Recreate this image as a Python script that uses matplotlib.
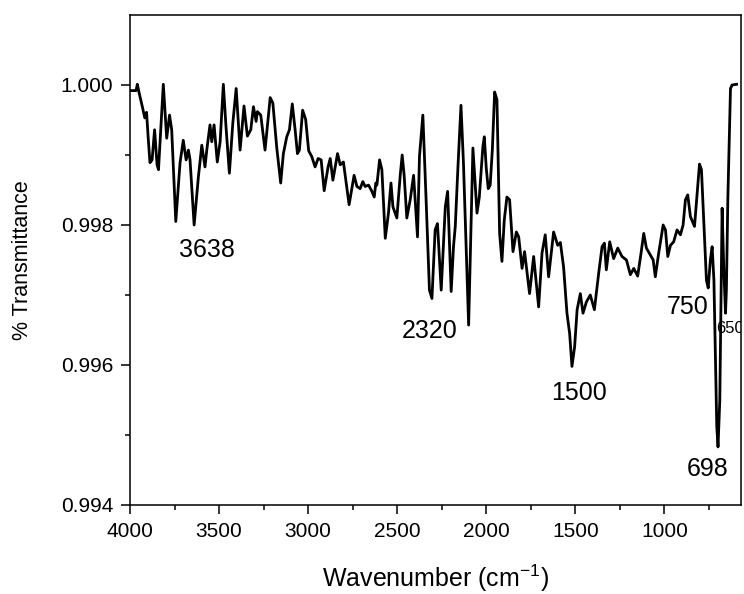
import matplotlib
matplotlib.use("Agg")
import matplotlib.pyplot as plt
from matplotlib.ticker import FixedLocator, MultipleLocator, FormatStrFormatter

plt.rcParams["font.family"] = ["Liberation Sans", "DejaVu Sans"]
plt.rcParams["mathtext.default"] = "regular"

# FTIR spectrum, wavenumber (cm-1) vs transmittance
wavenumber = [
    4000, 3966, 3959, 3948, 3929, 3917, 3907, 3899, 3888, 3876,
    3862, 3848, 3840, 3813, 3794, 3778, 3766, 3743, 3719, 3701,
    3685, 3672, 3663, 3640, 3616, 3597, 3579, 3569, 3551, 3541,
    3528, 3510, 3494, 3476, 3461, 3442, 3423, 3404, 3382, 3360,
    3341, 3322, 3307, 3292, 3285, 3266, 3242, 3213, 3198, 3176,
    3154, 3139, 3120, 3105, 3089, 3073, 3060, 3049, 3031, 3014,
    2997, 2980, 2961, 2944, 2927, 2910, 2888, 2876, 2861, 2835,
    2820, 2802, 2770, 2742, 2726, 2708, 2693, 2680, 2661, 2642,
    2629, 2620, 2614, 2599, 2586, 2567, 2549, 2535, 2524, 2502,
    2483, 2472, 2461, 2446, 2427, 2408, 2386, 2375, 2356, 2337,
    2319, 2305, 2287, 2274, 2253, 2230, 2217, 2197, 2184, 2174,
    2159, 2142, 2128, 2099, 2075, 2052, 2039, 2019, 2011, 2000,
    1989, 1978, 1966, 1953, 1940, 1925, 1912, 1899, 1884, 1869,
    1850, 1831, 1818, 1799, 1785, 1757, 1734, 1706, 1687, 1669,
    1650, 1622, 1599, 1584, 1566, 1547, 1532, 1519, 1504, 1490,
    1472, 1457, 1438, 1416, 1393, 1369, 1350, 1337, 1326, 1307,
    1285, 1262, 1238, 1213, 1191, 1172, 1150, 1131, 1116, 1101,
    1079, 1063, 1051, 1032, 1007, 994, 981, 966, 948, 929,
    910, 895, 882, 869, 854, 831, 816, 803, 792, 779,
    764, 754, 742, 732, 722, 706, 699, 689, 676, 667,
    657, 652, 644, 629, 620, 595,
]
transmittance = [
    0.99992, 0.99992, 1.00001, 0.99988, 0.99967, 0.99953, 0.99961, 0.99929, 0.99889, 0.99893,
    0.99936, 0.99886, 0.99879, 1.00001, 0.99924, 0.99957, 0.99936, 0.99805, 0.99889, 0.99921,
    0.99893, 0.99907, 0.99893, 0.99800, 0.99869, 0.99914, 0.99883, 0.99907, 0.99943, 0.99919,
    0.99943, 0.99890, 0.99919, 1.00001, 0.99940, 0.99874, 0.99945, 0.99995, 0.99907, 0.99970,
    0.99927, 0.99936, 0.99969, 0.99948, 0.99962, 0.99957, 0.99907, 0.99982, 0.99974, 0.99910,
    0.99860, 0.99902, 0.99926, 0.99936, 0.99973, 0.99936, 0.99902, 0.99907, 0.99964, 0.99951,
    0.99906, 0.99898, 0.99883, 0.99895, 0.99893, 0.99849, 0.99883, 0.99895, 0.99864, 0.99902,
    0.99886, 0.99890, 0.99829, 0.99871, 0.99855, 0.99852, 0.99862, 0.99855, 0.99857, 0.99848,
    0.99840, 0.99860, 0.99857, 0.99893, 0.99879, 0.99781, 0.99817, 0.99860, 0.99826, 0.99810,
    0.99871, 0.99900, 0.99871, 0.99810, 0.99836, 0.99871, 0.99783, 0.99898, 0.99957, 0.99831,
    0.99707, 0.99695, 0.99793, 0.99802, 0.99707, 0.99826, 0.99848, 0.99705, 0.99769, 0.99798,
    0.99883, 0.99971, 0.99888, 0.99657, 0.99910, 0.99817, 0.99840, 0.99912, 0.99926, 0.99881,
    0.99852, 0.99857, 0.99907, 0.99990, 0.99979, 0.99788, 0.99748, 0.99807, 0.99840, 0.99836,
    0.99762, 0.99790, 0.99783, 0.99738, 0.99762, 0.99702, 0.99755, 0.99683, 0.99760, 0.99786,
    0.99726, 0.99790, 0.99771, 0.99775, 0.99740, 0.99674, 0.99645, 0.99598, 0.99626, 0.99679,
    0.99702, 0.99674, 0.99690, 0.99700, 0.99679, 0.99731, 0.99769, 0.99774, 0.99736, 0.99776,
    0.99752, 0.99767, 0.99755, 0.99750, 0.99729, 0.99738, 0.99727, 0.99760, 0.99788, 0.99767,
    0.99757, 0.99750, 0.99726, 0.99760, 0.99800, 0.99793, 0.99755, 0.99771, 0.99776, 0.99793,
    0.99786, 0.99800, 0.99836, 0.99843, 0.99812, 0.99798, 0.99845, 0.99887, 0.99879, 0.99807,
    0.99721, 0.99710, 0.99750, 0.99769, 0.99721, 0.99512, 0.99483, 0.99550, 0.99824, 0.99740,
    0.99674, 0.99707, 0.99836, 0.99995, 1.00000, 1.00001,
]

# peak annotations
peak_labels = ["3638", "2320", "1500", "750", "698"]
peak_label_x = [3569, 2319, 1481, 872, 760]
peak_label_y = [0.99764, 0.99648, 0.99560, 0.99683, 0.99452]
small_label = "650"
small_label_x = 708
small_label_y = 0.99652

y_major = [0.994, 0.996, 0.998, 1.000]
y_minor = [0.995, 0.997, 0.999]

fig = plt.figure(figsize=(7.44, 5.94), dpi=100)
ax = fig.add_axes([130 / 744, 1 - 505 / 594, 611 / 744, 490 / 594])

ax.plot(wavenumber, transmittance, color="black", lw=2.0, solid_joinstyle="round")

ax.set_xlim(4000, 570)
ax.set_ylim(0.994, 1.001)

ax.xaxis.set_major_locator(MultipleLocator(500))
ax.xaxis.set_minor_locator(MultipleLocator(250))
ax.yaxis.set_major_locator(FixedLocator(y_major))
ax.yaxis.set_minor_locator(FixedLocator(y_minor))
ax.yaxis.set_major_formatter(FormatStrFormatter("%.3f"))

ax.tick_params(which="both", direction="out", width=1.1, labelsize=15, pad=5.5,
               top=False, right=False)
ax.tick_params(which="major", length=6.5)
ax.tick_params(which="minor", length=3.3)
for sp in ax.spines.values():
    sp.set_linewidth(1.1)

for lab, x, y in zip(peak_labels, peak_label_x, peak_label_y):
    ax.text(x, y, lab, fontsize=18, ha="center", va="center")
ax.text(small_label_x, small_label_y, small_label, fontsize=12, ha="left",
        va="center", clip_on=True)

ax.set_xlabel("Wavenumber (cm$^{-1}$)", fontsize=18, va="center")
ax.set_ylabel("% Transmittance", fontsize=15.5, va="center")
ax.xaxis.set_label_coords(0.5, -73 / 490)
ax.yaxis.set_label_coords(-107 / 611, 0.5)

fig.savefig("out.png", dpi=100)
